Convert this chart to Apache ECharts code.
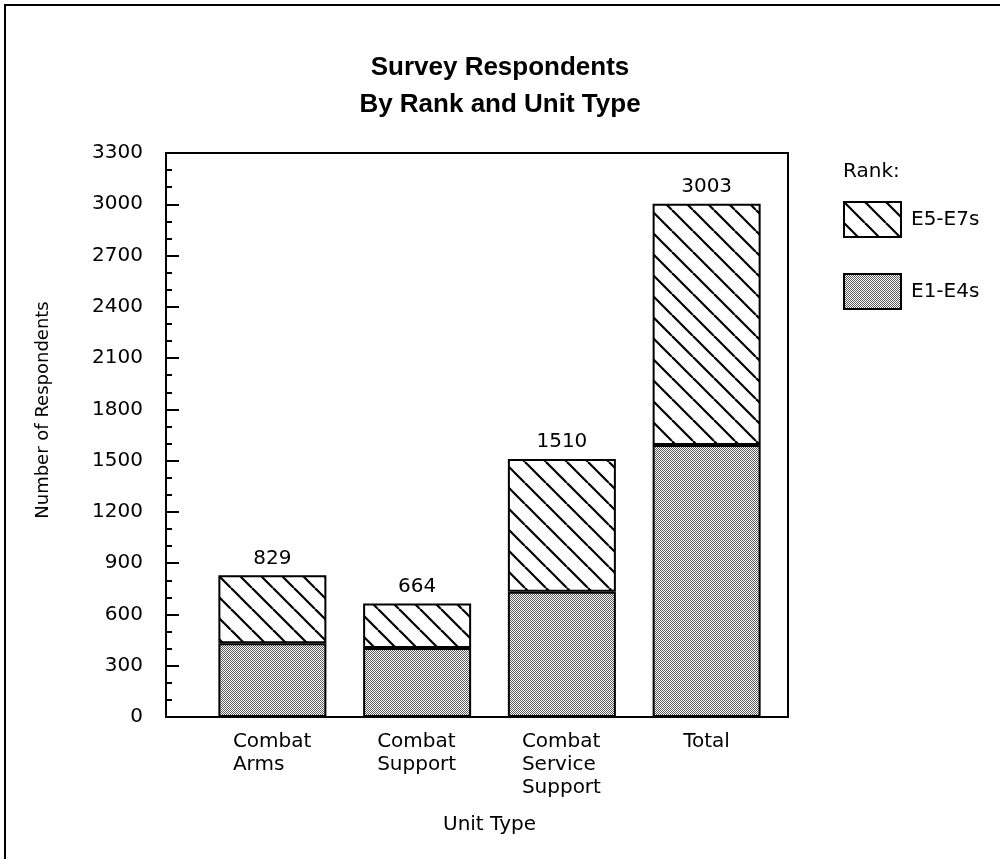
<!DOCTYPE html>
<html><head><meta charset="utf-8">
<script src="https://cdn.jsdelivr.net/npm/echarts@6/dist/echarts.min.js"></script>
<style>html,body{margin:0;padding:0;background:#fff}#c{width:1000px;height:859px}</style>
</head><body><div id="c"></div>
<script>
// ---- data ----
const categories = ['Combat\nArms', 'Combat\nSupport', 'Combat\nService\nSupport', 'Total'];
const seriesNames = ['E5-E7s', 'E1-E4s'];
const e1e4 = [432, 403, 733, 1591];
const e5e7 = [397, 261, 777, 1412];
const yMin = 0, yMax = 3300, yInterval = 300;
const titleText = 'Survey Respondents\nBy Rank and Unit Type';
const yName = 'Number of Respondents';
const xName = 'Unit Type';
const legendTitle = 'Rank:';

// ---- patterns ----
function hatchPattern() {
  const s = 21, c = document.createElement('canvas'); c.width = s; c.height = s;
  const g = c.getContext('2d'); g.fillStyle = '#fff'; g.fillRect(0, 0, s, s);
  g.strokeStyle = '#000'; g.lineWidth = 2.2;
  for (const o of [-s, 0, s]) { g.beginPath(); g.moveTo(o, 0); g.lineTo(o + s, s); g.stroke(); }
  return c;
}
function dotPattern() {
  const c = document.createElement('canvas'); c.width = 4; c.height = 4;
  const g = c.getContext('2d'); g.fillStyle = '#fff'; g.fillRect(0, 0, 4, 4);
  g.fillStyle = '#5a5a5a';
  for (let y = 0; y < 4; y++) for (let x = 0; x < 4; x++) if ((x + y) % 2 === 0) g.fillRect(x, y, 1, 1);
  return c;
}

const FONT = '"DejaVu Sans", sans-serif';
const mctx = document.createElement('canvas').getContext('2d');
mctx.font = '20px "DejaVu Sans"';
const rich = {};
categories.forEach((c, i) => {
  const w = Math.max(...c.split('\n').map(l => mctx.measureText(l).width));
  rich['c' + i] = { width: Math.ceil(w), align: 'left', fontSize: 20, fontFamily: FONT, lineHeight: 23, color: '#000' };
});

const chart = echarts.init(document.getElementById('c'), null, { renderer: 'canvas' });
chart.setOption({
  animation: false,
  backgroundColor: '#fff',
  title: [
    { text: titleText, left: 'center', top: 44,
      textStyle: { fontSize: 26, fontWeight: 'bold', fontFamily: '"Liberation Sans", Arial, sans-serif', lineHeight: 37, color: '#000' } },
    { text: legendTitle, left: 843, top: 162, padding: 0,
      textStyle: { fontSize: 20, fontWeight: 'normal', fontFamily: FONT, color: '#000' } }
  ],
  legend: {
    data: seriesNames, orient: 'vertical', left: 843, top: 201, padding: 0,
    itemWidth: 57, itemHeight: 35, itemGap: 35, icon: 'rect',
    textStyle: { fontSize: 20, fontFamily: FONT, color: '#000', padding: [0, 0, 0, 5] }
  },
  graphic: [
    { type: 'polyline', shape: { points: [[5, 859], [5, 5], [1000, 5]] }, style: { stroke: '#000', lineWidth: 2, fill: null } }
  ],
  grid: [
    { left: 166, right: 212, top: 153, bottom: 142, show: true, borderColor: '#000', borderWidth: 2, backgroundColor: 'transparent' },
    { left: 200, right: 221, top: 153, bottom: 142 }
  ],
  xAxis: [
    { gridIndex: 0, type: 'value', show: false },
    { gridIndex: 1, type: 'category', data: categories,
      axisLine: { show: false }, axisTick: { show: false },
      axisLabel: { margin: 13, formatter: (v, i) => v.split('\n').map(l => `{c${i}|${l}}`).join('\n'), rich: rich },
      name: xName, nameLocation: 'middle', nameGap: 98,
      nameTextStyle: { fontSize: 20, fontFamily: FONT, color: '#000' } }
  ],
  yAxis: [
    { gridIndex: 0, type: 'value', min: yMin, max: yMax, interval: yInterval,
      axisLine: { show: true, lineStyle: { color: '#000', width: 2 } },
      axisTick: { show: true, inside: true, length: 13, lineStyle: { color: '#000', width: 2 } },
      minorTick: { show: true, splitNumber: 3, length: 6, lineStyle: { color: '#000', width: 2 } },
      splitLine: { show: false },
      axisLabel: { margin: 23, fontSize: 20, fontFamily: FONT, color: '#000', formatter: v => String(v) },
      name: yName, nameLocation: 'middle', nameRotate: 90, nameGap: 114,
      nameTextStyle: { fontSize: 18, fontFamily: FONT, color: '#000', padding: [0, 0, 0, 50] } },
    { gridIndex: 1, type: 'value', min: yMin, max: yMax, interval: yInterval, show: false }
  ],
  series: [
    { name: seriesNames[1], type: 'bar', stack: 'rank', xAxisIndex: 1, yAxisIndex: 1, barWidth: 108,
      data: e1e4,
      itemStyle: { color: { image: dotPattern(), repeat: 'repeat' }, borderColor: '#000', borderWidth: 2 } },
    { name: seriesNames[0], type: 'bar', stack: 'rank', xAxisIndex: 1, yAxisIndex: 1, barWidth: 108,
      data: e5e7,
      itemStyle: { color: { image: hatchPattern(), repeat: 'repeat' }, borderColor: '#000', borderWidth: 2 },
      label: { show: true, position: 'top', distance: 7, fontSize: 20, fontFamily: FONT, color: '#000',
        formatter: p => String(e1e4[p.dataIndex] + e5e7[p.dataIndex]) } }
  ]
});
</script>
</body></html>
